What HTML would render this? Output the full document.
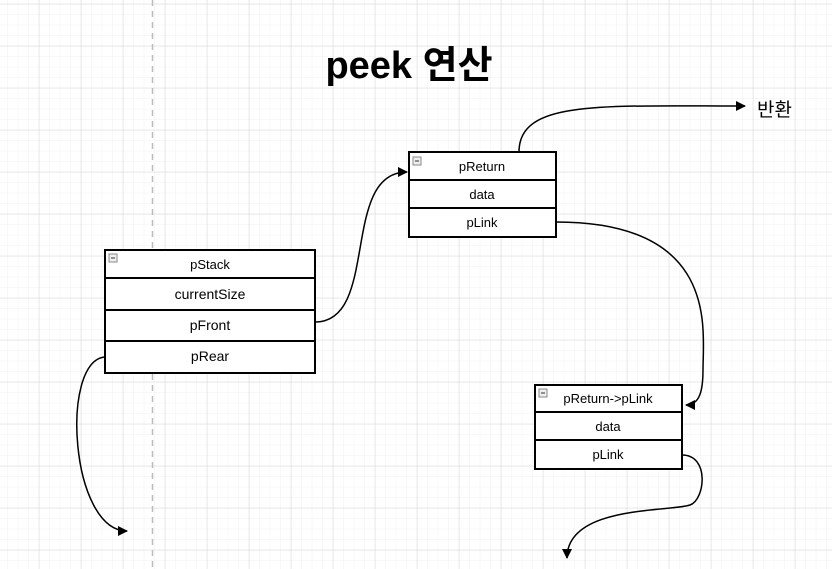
<!DOCTYPE html>
<html><head><meta charset="utf-8"><style>
body{margin:0;background:#fff}
svg{display:block}
text{font-family:"Liberation Sans","Noto Sans CJK KR",sans-serif}
</style></head><body>
<svg width="832" height="569" viewBox="0 0 832 569" xmlns="http://www.w3.org/2000/svg">
<defs>
<pattern id="minor" width="10.5" height="10.5" patternUnits="userSpaceOnUse" x="-2.7" y="-6.2">
<path d="M10.5 0V10.5M0 10.5H10.5" stroke="#f1f1f1" stroke-width="1" fill="none"/>
</pattern>
<pattern id="major" width="42" height="42" patternUnits="userSpaceOnUse" x="-2.7" y="-37.7">
<path d="M42 0V42M0 42H42" stroke="#d6d6d6" stroke-width="1" fill="none"/>
</pattern>
<marker id="ar" markerWidth="10" markerHeight="10" refX="9" refY="5" orient="auto" markerUnits="userSpaceOnUse">
<path d="M0 0L10 5L0 10Z" fill="#000"/>
</marker>
</defs>
<rect width="832" height="569" fill="url(#minor)"/>
<rect width="832" height="569" fill="url(#major)"/>
<line x1="152.5" y1="0" x2="152.5" y2="569" stroke="#bbb" stroke-width="1.5" stroke-dasharray="6,5"/>

<text x="409" y="78" font-size="38" font-weight="bold" text-anchor="middle">peek 연산</text>

<g fill="none" stroke="#000" stroke-width="1.5">
<path d="M315 322 C380 322 340 172 407 172" marker-end="url(#ar)"/>
<path d="M519 152 C519 100 600 106 745 106" marker-end="url(#ar)"/>
<path d="M556 222 C720 222 703 330 703 370 C703 390 700 405 686 405" marker-end="url(#ar)"/>
<path d="M682 455 C710 455 705 500 690 505 C670 512 567 505 567 558" marker-end="url(#ar)"/>
<path d="M105 357 C60 360 70 531 127 531" marker-end="url(#ar)"/>
</g>
<text x="757" y="116" font-size="19">반환</text>

<g stroke="#000" stroke-width="2" fill="#fff">
<rect x="105" y="250" width="210" height="123"/>
<line x1="105" y1="278" x2="315" y2="278"/>
<line x1="105" y1="310" x2="315" y2="310"/>
<line x1="105" y1="341" x2="315" y2="341"/>
<rect x="409" y="152" width="147" height="85"/>
<line x1="409" y1="180" x2="556" y2="180"/>
<line x1="409" y1="208" x2="556" y2="208"/>
<rect x="535" y="385" width="147" height="84"/>
<line x1="535" y1="412" x2="682" y2="412"/>
<line x1="535" y1="440" x2="682" y2="440"/>
</g>
<g fill="#eee" stroke="#888" stroke-width="1">
<rect x="109" y="254" width="8" height="8"/><rect x="413" y="157" width="8" height="8"/><rect x="539" y="389" width="8" height="8"/>
</g>
<g stroke="#333" stroke-width="1"><line x1="111" y1="258" x2="115" y2="258"/><line x1="415" y1="161" x2="419" y2="161"/><line x1="541" y1="393" x2="545" y2="393"/></g>
<g font-size="14" text-anchor="middle">
<text x="210" y="269" font-size="13">pStack</text>
<text x="210" y="299">currentSize</text>
<text x="210" y="330">pFront</text>
<text x="210" y="361">pRear</text>
<text x="482" y="171" font-size="13">pReturn</text>
<text x="482" y="199" font-size="13">data</text>
<text x="482" y="227" font-size="13">pLink</text>
<text x="608" y="403" font-size="13">pReturn-&gt;pLink</text>
<text x="608" y="431" font-size="13">data</text>
<text x="608" y="459" font-size="13">pLink</text>
</g>
</svg>
</body></html>
